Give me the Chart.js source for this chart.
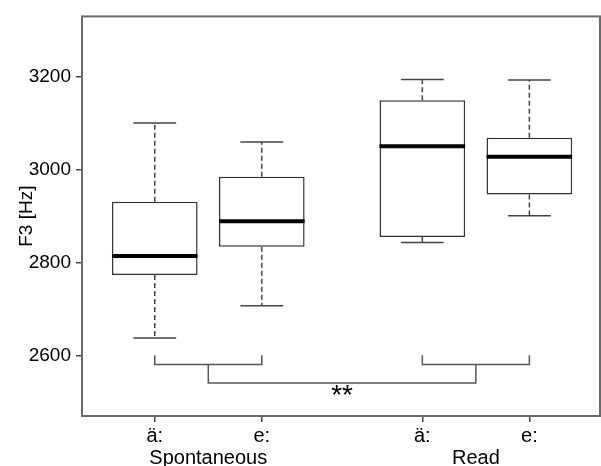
<!DOCTYPE html>
<html>
<head>
<meta charset="utf-8">
<script src="https://cdn.jsdelivr.net/npm/chart.js@4/dist/chart.umd.min.js"></script>
<style>
  html, body { margin: 0; padding: 0; background: #fff; }
  canvas { display: block; }
</style>
</head>
<body>
<canvas id="f3Chart" width="601" height="466"></canvas>
<script>
// F3 by vowel and speaking style
const groups = ['Spontaneous', 'Read'];
const vowels = ['ä:', 'e:', 'ä:', 'e:'];
const positions = [1, 2, 3.5, 4.5];
const whiskerLow = [2637, 2707, 2843, 2901];
const q1 = [2773, 2834, 2855, 2947];
const medians = [2814, 2889, 3051, 3028];
const q3 = [2931, 2985, 3150, 3069];
const whiskerHigh = [3101, 3060, 3195, 3194];
const yTicks = [2600, 2800, 3000, 3200];
// comparison bracket levels (Hz) and label
const bracketLevels = [2600, 2580, 2540];
const starLevel = 2524;
const significance = '**';

const FONT = "'Liberation Sans', Arial, sans-serif";
const TEXT = '#000';
const BOX_HALF = 0.4;
const CAP_HALF = 0.2;

// group centres between each pair of boxes
const groupCenters = [(positions[0] + positions[1]) / 2, (positions[2] + positions[3]) / 2];

const gap = { x: null, y: null };

const medianSegments = [];
const whiskerSegments = [];
const capSegments = [];
positions.forEach((x, i) => {
  medianSegments.push({ x: x - BOX_HALF, y: medians[i] }, { x: x + BOX_HALF, y: medians[i] }, gap);
  whiskerSegments.push({ x, y: q3[i] }, { x, y: whiskerHigh[i] }, gap);
  whiskerSegments.push({ x, y: q1[i] }, { x, y: whiskerLow[i] }, gap);
  capSegments.push({ x: x - CAP_HALF, y: whiskerHigh[i] }, { x: x + CAP_HALF, y: whiskerHigh[i] }, gap);
  capSegments.push({ x: x - CAP_HALF, y: whiskerLow[i] }, { x: x + CAP_HALF, y: whiskerLow[i] }, gap);
});

const [bTop, bMid, bLow] = bracketLevels;
const bracketSegments = [];
for (let g = 0; g < 2; g++) {
  const a = positions[g * 2], b = positions[g * 2 + 1];
  bracketSegments.push({ x: a, y: bTop }, { x: a, y: bMid }, { x: b, y: bMid }, { x: b, y: bTop }, gap);
}
bracketSegments.push(
  { x: groupCenters[0], y: bMid }, { x: groupCenters[0], y: bLow },
  { x: groupCenters[1], y: bLow }, { x: groupCenters[1], y: bMid }
);

const lineBase = { type: 'line', pointRadius: 0, tension: 0, spanGaps: false, fill: false, xAxisID: 'x', yAxisID: 'y' };

const framePlugin = {
  id: 'frame',
  afterDraw(chart) {
    const { ctx, chartArea: a } = chart;
    ctx.save();
    ctx.strokeStyle = '#6a6a6a';
    ctx.lineWidth = 2;
    ctx.strokeRect(a.left, a.top, a.right - a.left, a.bottom - a.top);
    ctx.restore();
  }
};

const starPlugin = {
  id: 'stars',
  afterDatasetsDraw(chart) {
    const { ctx, scales } = chart;
    const px = scales.x.getPixelForValue((groupCenters[0] + groupCenters[1]) / 2);
    const py = scales.y.getPixelForValue(starLevel);
    ctx.save();
    ctx.fillStyle = '#000';
    ctx.font = '28px ' + FONT;
    ctx.textAlign = 'center';
    ctx.textBaseline = 'alphabetic';
    ctx.fillText(significance, px, py + 13);
    ctx.restore();
  }
};

new Chart(document.getElementById('f3Chart'), {
  type: 'bar',
  data: {
    datasets: [
      Object.assign({}, lineBase, {
        data: medianSegments, borderColor: '#000', borderWidth: 4, borderCapStyle: 'butt', order: 0
      }),
      Object.assign({}, lineBase, {
        data: bracketSegments, borderColor: '#555', borderWidth: 1.5, order: 1
      }),
      Object.assign({}, lineBase, {
        data: capSegments, borderColor: '#444', borderWidth: 1.5, order: 2
      }),
      Object.assign({}, lineBase, {
        data: whiskerSegments, borderColor: '#444', borderWidth: 1.5, borderDash: [5, 3], order: 3
      }),
      {
        type: 'bar',
        data: positions.map((x, i) => ({ x, y: [q1[i], q3[i]] })),
        backgroundColor: '#fff',
        borderColor: '#333',
        borderWidth: 1.5,
        borderSkipped: false,
        categoryPercentage: 0.8,
        barPercentage: 1,
        grouped: false,
        xAxisID: 'x',
        yAxisID: 'y',
        order: 4
      }
    ]
  },
  options: {
    responsive: false,
    animation: false,
    events: [],
    layout: { padding: { top: 10, right: 1, left: 0, bottom: 0 } },
    plugins: { legend: { display: false }, tooltip: { enabled: false } },
    scales: {
      x: {
        type: 'linear',
        position: 'bottom',
        offset: false,
        min: 0.32,
        max: 5.16,
        afterBuildTicks: (s) => { s.ticks = positions.map(v => ({ value: v })); },
        afterFit: (s) => { s.height = 30; },
        ticks: {
          callback: (v, i) => vowels[i],
          autoSkip: false, maxRotation: 0, padding: 2,
          color: TEXT, font: { family: FONT, size: 20 }
        },
        grid: { offset: false, drawOnChartArea: false, tickLength: 6, color: '#444', lineWidth: 1.5 },
        border: { display: false }
      },
      x2: {
        type: 'linear',
        position: 'bottom',
        offset: false,
        min: 0.32,
        max: 5.16,
        afterBuildTicks: (s) => { s.ticks = groupCenters.map(v => ({ value: v })); },
        afterFit: (s) => { s.height = 20; },
        ticks: {
          callback: (v, i) => groups[i],
          autoSkip: false, maxRotation: 0, padding: 0,
          color: TEXT, font: { family: FONT, size: 20 }
        },
        grid: { display: false, drawTicks: false, offset: false },
        border: { display: false }
      },
      y: {
        min: 2469,
        max: 3331,
        afterBuildTicks: (s) => { s.ticks = yTicks.map(v => ({ value: v })); },
        afterFit: (s) => { s.width = 82; },
        ticks: {
          callback: (v) => String(v),
          padding: 5, color: TEXT, font: { family: FONT, size: 19 }
        },
        grid: { drawOnChartArea: false, tickLength: 6, color: '#444', lineWidth: 1.5 },
        border: { display: false },
        title: {
          display: true, text: 'F3 [Hz]', color: TEXT,
          font: { family: FONT, size: 19 }, padding: { top: 15, bottom: 0 }
        }
      }
    }
  },
  plugins: [framePlugin, starPlugin]
});
</script>
</body>
</html>
